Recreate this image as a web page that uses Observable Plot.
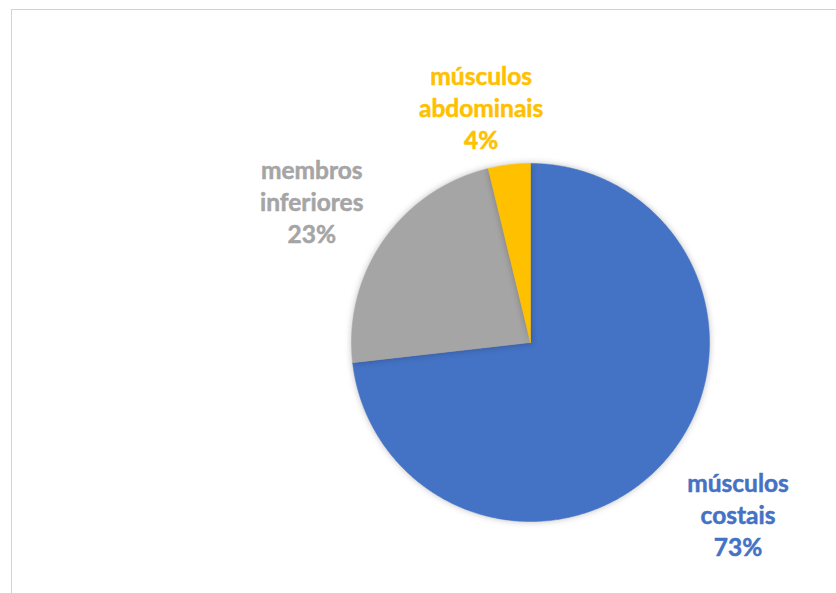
<!DOCTYPE html>
<html>
<head>
<meta charset="utf-8">
<script src="https://cdn.jsdelivr.net/npm/d3@7"></script>
<script src="https://cdn.jsdelivr.net/npm/@observablehq/plot@0.6"></script>
<style>
  html, body { margin: 0; padding: 0; background: #fff; }
  #wrap { position: relative; width: 836px; height: 593px; overflow: hidden; }
  #frame { position: absolute; left: 11px; top: 9px; right: -5px; bottom: -5px;
           border-left: 1px solid #d3d3d3; border-top: 1px solid #d3d3d3; pointer-events: none; }
  #chart { position: absolute; left: 0; top: 0; }
</style>
</head>
<body>
<div id="wrap"><div id="frame"></div><div id="chart"></div></div>
<script>
// Data
const categories = ["músculos costais", "membros inferiores", "músculos abdominais"];
const values = [73.2, 23.0, 3.8];
const colors = ["#4472C4", "#A5A5A5", "#FFC000"];

// Label layout (pixel nudges from the arc midpoint), kept out of the data arrays
const labelNudge = {
  "músculos costais": [74, 52],
  "membros inferiores": [-72, -39],
  "músculos abdominais": [-28, -58]
};

const total = d3.sum(values);
const pie = d3.pie().sort(null).value(d => d.value)(
  categories.map((name, i) => ({name, value: values[i], color: colors[i]}))
);

// Polygon outline for each slice (angle measured clockwise from 12 o'clock)
function slicePoints(p) {
  const pts = [{x: 0, y: 0}];
  const n = Math.max(2, Math.ceil((p.endAngle - p.startAngle) / (Math.PI / 360)));
  for (let k = 0; k <= n; k++) {
    const a = p.startAngle + (p.endAngle - p.startAngle) * k / n;
    pts.push({x: Math.sin(a), y: Math.cos(a)});
  }
  pts.push({x: 0, y: 0});
  return pts;
}

const sliceMarks = pie.map(p =>
  Plot.line(slicePoints(p), {x: "x", y: "y", fill: p.data.color, stroke: p.data.color, strokeWidth: 0.5,
    imageFilter: "drop-shadow(0px 0px 3px rgba(0,0,0,0.25))"})
);

const labelMarks = pie.map(p => {
  const mid = (p.startAngle + p.endAngle) / 2;
  const [dx, dy] = labelNudge[p.data.name];
  const words = p.data.name.split(" ");
  const text = words.join("\n") + "\n" + Math.round(p.data.value / total * 100) + "%";
  return Plot.text([{x: Math.sin(mid), y: Math.cos(mid), text}], {
    x: "x", y: "y", text: "text", dx, dy,
    fill: p.data.color, stroke: p.data.color, strokeWidth: 0.5,
    fontSize: 24.5, fontWeight: "bold",
    fontFamily: "Lato, 'Open Sans', sans-serif",
    lineAnchor: "middle", lineHeight: 1.31, textAnchor: "middle"
  });
});

const chart = Plot.plot({
  width: 836,
  height: 593,
  marginLeft: 351,
  marginRight: 127,
  marginTop: 163,
  marginBottom: 72,
  x: {domain: [-1, 1], axis: null},
  y: {domain: [-1, 1], axis: null},
  style: {background: "transparent", overflow: "visible"},
  marks: [...sliceMarks, ...labelMarks]
});
document.getElementById("chart").appendChild(chart);
</script>
</body>
</html>
